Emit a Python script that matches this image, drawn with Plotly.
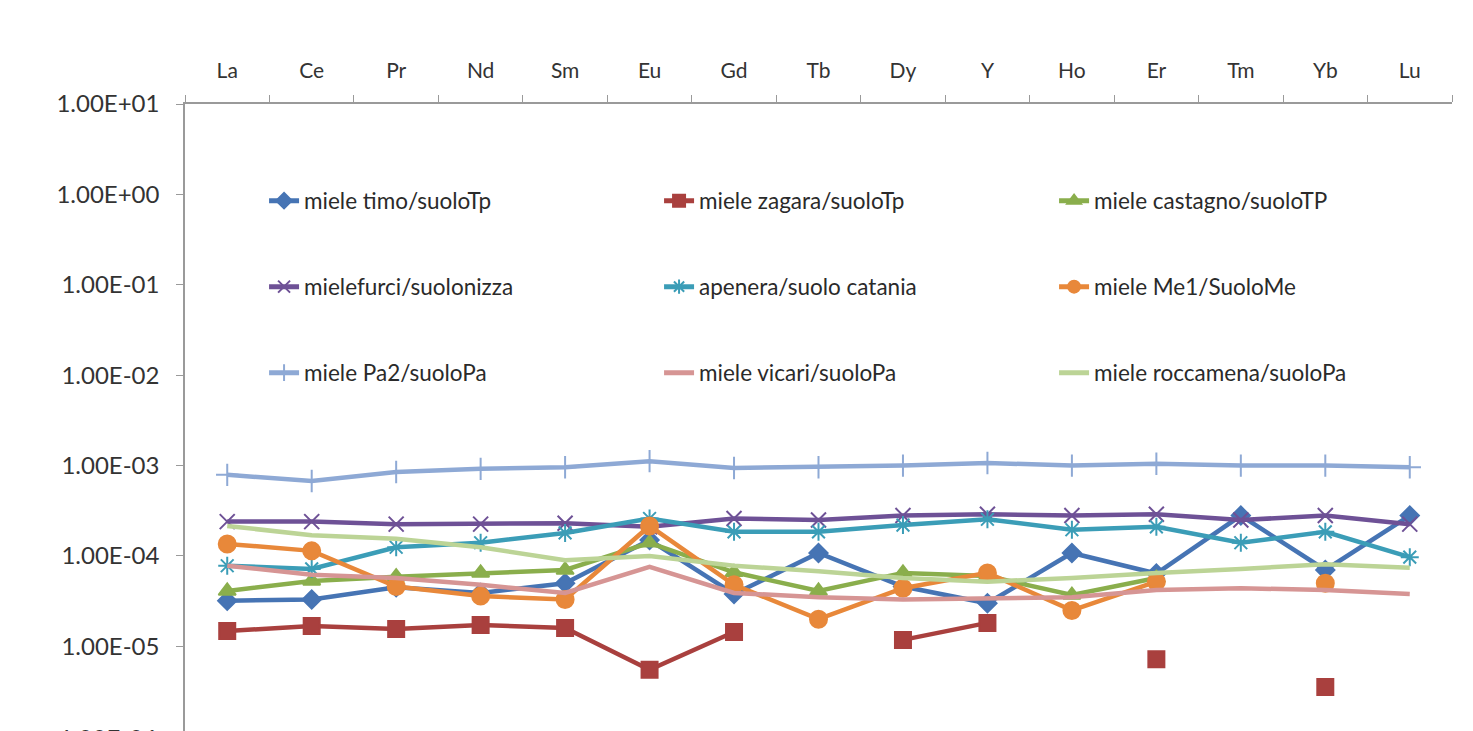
import plotly.graph_objects as go

elements = ["La", "Ce", "Pr", "Nd", "Sm", "Eu", "Gd", "Tb", "Dy", "Y", "Ho", "Er", "Tm", "Yb", "Lu"]

timo =       [3.2e-5, 3.3e-5, 4.5e-5, 3.9e-5, 5.0e-5, 1.5e-4, 3.8e-5, 1.08e-4, 4.6e-5, 3.0e-5, 1.08e-4, 6.4e-5, 2.8e-4, 7.0e-5, 2.8e-4]
zagara =     [1.48e-5, 1.68e-5, 1.56e-5, 1.72e-5, 1.6e-5, 5.5e-6, 1.44e-5, None, 1.18e-5, 1.82e-5, None, 7.2e-6, None, 3.55e-6, None]
castagno =   [4.1e-5, 5.3e-5, 5.9e-5, 6.5e-5, 7.0e-5, 1.4e-4, 6.6e-5, 4.1e-5, 6.5e-5, 6.0e-5, 3.7e-5, 5.7e-5, None, None, None]
furci =      [2.4e-4, 2.4e-4, 2.25e-4, 2.25e-4, 2.3e-4, 2.1e-4, 2.6e-4, 2.5e-4, 2.8e-4, 2.9e-4, 2.8e-4, 2.9e-4, 2.5e-4, 2.8e-4, 2.25e-4]
apenera =    [7.8e-5, 7.2e-5, 1.25e-4, 1.4e-4, 1.8e-4, 2.6e-4, 1.85e-4, 1.85e-4, 2.2e-4, 2.55e-4, 1.95e-4, 2.1e-4, 1.4e-4, 1.85e-4, 9.7e-5]
me1 =        [1.36e-4, 1.14e-4, 4.6e-5, 3.6e-5, 3.3e-5, 2.15e-4, 4.8e-5, 2.0e-5, 4.4e-5, 6.5e-5, 2.5e-5, 5.2e-5, None, 5.0e-5, None]
pa2 =        [7.9e-4, 6.75e-4, 8.5e-4, 9.2e-4, 9.6e-4, 1.12e-3, 9.4e-4, 9.6e-4, 1.0e-3, 1.07e-3, 1.0e-3, 1.05e-3, 1.0e-3, 1.0e-3, 9.6e-4]
vicari =     [7.8e-5, 6.2e-5, 5.7e-5, 4.8e-5, 3.9e-5, 7.6e-5, 3.9e-5, 3.5e-5, 3.3e-5, 3.4e-5, 3.5e-5, 4.2e-5, 4.4e-5, 4.2e-5, 3.8e-5]
roccamena =  [2.15e-4, 1.7e-4, 1.55e-4, 1.25e-4, 9.0e-5, 1.0e-4, 7.8e-5, 6.8e-5, 5.7e-5, 5.2e-5, 5.7e-5, 6.5e-5, 7.2e-5, 8.1e-5, 7.4e-5]

names = ["miele timo/suoloTp", "miele zagara/suoloTp", "miele castagno/suoloTP",
         "mielefurci/suolonizza", "apenera/suolo catania", "miele Me1/SuoloMe",
         "miele Pa2/suoloPa", "miele vicari/suoloPa", "miele roccamena/suoloPa"]

y_tickvals = [1e-6, 1e-5, 1e-4, 1e-3, 1e-2, 1e-1, 1e0, 1e1]
y_ticktext = ["1.00E-06", "1.00E-05", "1.00E-04", "1.00E-03", "1.00E-02", "1.00E-01", "1.00E+00", "1.00E+01"]

series = [timo, zagara, castagno, furci, apenera, me1, pa2, vicari, roccamena]
colors = ["#4674B4", "#A9403E", "#8AAE4C", "#6E5196", "#3B9DB7", "#E8883A", "#8EA9D5", "#D69594", "#BCD496"]
symbols = ["diamond", "square", "triangle-up", "x-thin-open", "asterisk-open", "circle", "cross-thin-open", None, None]
sizes = [14, 16, 15, 15, 15, 17, 16, 0, 0]
legends = ["legend", "legend", "legend", "legend2", "legend2", "legend2", "legend3", "legend3", "legend3"]

FONT = "Lato"
PLOT_H = 627

fig = go.Figure()
for s, n, c, sym, sz, lg in zip(series, names, colors, symbols, sizes, legends):
    if sym is None:
        fig.add_trace(go.Scatter(x=elements, y=s, name=n, mode="lines",
                                 line=dict(color=c, width=4.5), legend=lg))
    else:
        fig.add_trace(go.Scatter(x=elements, y=s, name=n, mode="lines+markers",
                                 line=dict(color=c, width=4.5),
                                 marker=dict(symbol=sym, size=sz, color=c,
                                             line=dict(color=c, width=2)),
                                 legend=lg))

leg_common = dict(orientation="h", x=0.0624, xanchor="left", yanchor="middle",
                  bgcolor="rgba(0,0,0,0)", font=dict(family=FONT, size=22.5, color="#2a2a2a"),
                  entrywidth=350, entrywidthmode="pixels", itemsizing="constant",
                  traceorder="normal")

fig.update_layout(
    width=1457, height=723,
    margin=dict(l=177, r=13, t=96, b=0),
    paper_bgcolor="white", plot_bgcolor="white",
    showlegend=True,
    legend=dict(y=(723 - 193) / PLOT_H, **leg_common),
    legend2=dict(y=(723 - 279) / PLOT_H, **leg_common),
    legend3=dict(y=(723 - 365) / PLOT_H, **leg_common),
    xaxis=dict(type="category", side="top", showline=True, linecolor="#9a9a9a", linewidth=1.5,
               ticks="outside", tickson="boundaries", ticklen=7, tickcolor="#9a9a9a",
               showgrid=False, zeroline=False, ticklabelstandoff=16,
               tickfont=dict(family=FONT, size=21, color="#333333"),
               range=[-0.5, 14.5]),
    yaxis=dict(type="log", range=[-5.936, 1], showline=True, linecolor="#9a9a9a", linewidth=1.5,
               ticks="outside", ticklen=7, tickcolor="#9a9a9a",
               tickvals=y_tickvals, ticktext=y_ticktext, ticklabelstandoff=12,
               showgrid=False, zeroline=False,
               tickfont=dict(family=FONT, size=24, color="#333333")),
)

fig.add_annotation(text="1.00E-06", xref="paper", yref="paper", x=0, y=-6 / PLOT_H,
                   xanchor="right", yanchor="middle", xshift=-26, showarrow=False,
                   font=dict(family=FONT, size=24, color="#333333"))

fig.write_html("out.html")
